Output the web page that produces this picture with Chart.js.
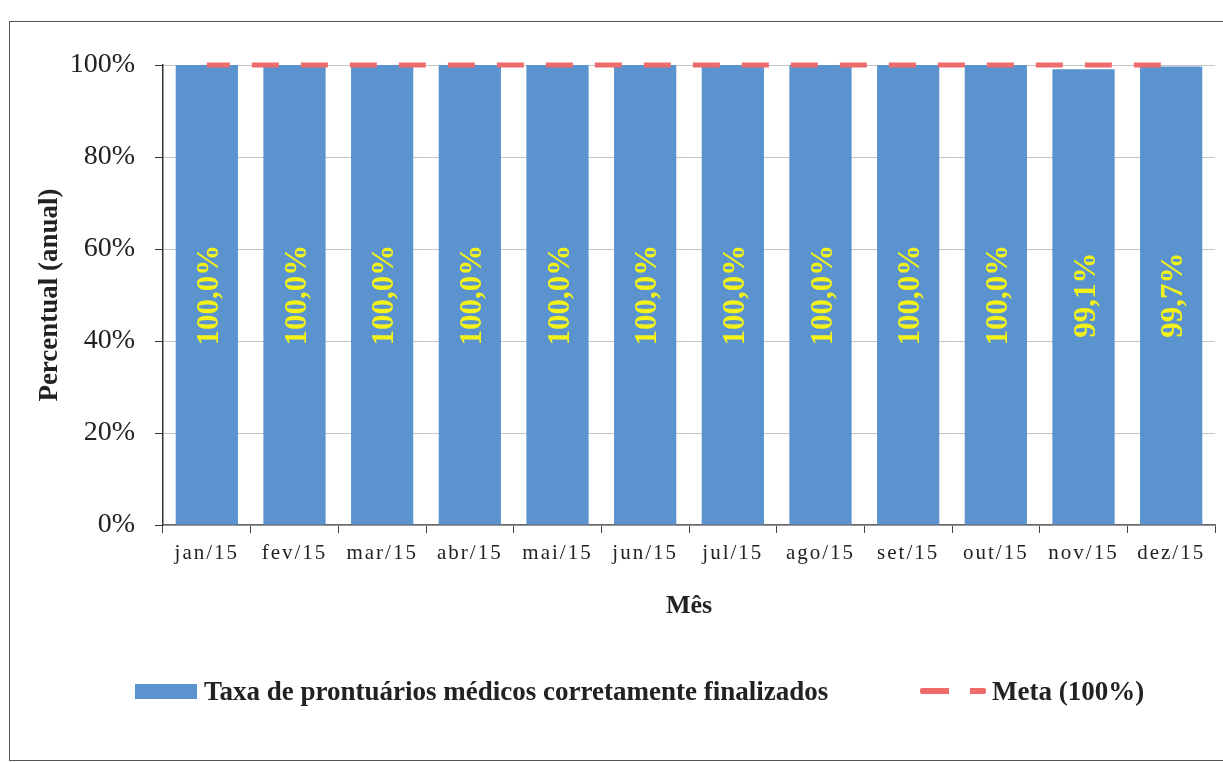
<!DOCTYPE html>
<html>
<head>
<meta charset="utf-8">
<script src="https://cdn.jsdelivr.net/npm/chart.js@4/dist/chart.umd.min.js"></script>
<style>
  html, body { margin: 0; padding: 0; background: #fff; width: 1223px; height: 762px; overflow: hidden; }
  #frame { position: absolute; left: 9px; top: 21px; width: 1230px; height: 740px; border: 1.5px solid #555; box-sizing: border-box; }
  #wrap { position: absolute; left: 0; top: 0; width: 1223px; height: 762px; }
  #legend { position: absolute; top: 674px; left: 0; width: 1223px; height: 34px; font-family: "Liberation Serif", serif; font-weight: bold; font-size: 27px; color: #222; }
  .item { position: absolute; top: 0; display: flex; align-items: center; height: 34px; }
  .swatch { width: 62px; height: 15px; background: #5b93cf; margin-right: 7px; }
  .dash { width: 66px; height: 6px; margin-right: 6px; background: linear-gradient(to right, #ee6b6b 0 29px, transparent 29px 50px, #ee6b6b 50px 66px); border-radius: 2px; }
</style>
</head>
<body>
<div id="frame"></div>
<div id="wrap"><canvas id="c" width="1223" height="762"></canvas></div>
<div id="legend">
  <div class="item" style="left:135px"><div class="swatch"></div><span>Taxa de prontuários médicos corretamente finalizados</span></div>
  <div class="item" style="left:920px"><div class="dash"></div><span>Meta (100%)</span></div>
</div>
<script>
const categories = ["jan/15","fev/15","mar/15","abr/15","mai/15","jun/15","jul/15","ago/15","set/15","out/15","nov/15","dez/15"];
const taxa = [100.0,100.0,100.0,100.0,100.0,100.0,100.0,100.0,100.0,100.0,99.1,99.7];
const meta = [100,100,100,100,100,100,100,100,100,100,100,100];
const yTicks = [0,20,40,60,80,100];

const labelPlugin = {
  id: 'vlabels',
  afterDatasetsDraw(chart) {
    const ctx = chart.ctx;
    const meta0 = chart.getDatasetMeta(1);
    const yMid = chart.scales.y.getPixelForValue(50);
    ctx.save();
    ctx.fillStyle = '#f2f21a';
    ctx.font = 'bold 31px "Liberation Serif", serif';
    ctx.textAlign = 'center';
    ctx.textBaseline = 'middle';
    meta0.data.forEach((bar, i) => {
      ctx.save();
      ctx.translate(bar.x + 3, yMid);
      ctx.rotate(-Math.PI / 2);
      ctx.fillText(taxa[i].toFixed(1).replace('.', ',') + '%', 0, 0);
      ctx.restore();
    });
    ctx.restore();
  }
};

const spacingPlugin = {
  id: 'xspacing',
  afterLayout(chart) {
    const sx = chart.scales.x;
    if (sx._patched) return;
    const orig = sx.drawLabels;
    sx.drawLabels = function (area) {
      const ctx = this.ctx;
      const prev = ctx.letterSpacing;
      ctx.letterSpacing = '2px';
      orig.call(this, area);
      ctx.letterSpacing = prev || '0px';
    };
    sx._patched = true;
  }
};

new Chart(document.getElementById('c'), {
  type: 'bar',
  data: {
    labels: categories,
    datasets: [
      {
        type: 'line',
        label: 'Meta (100%)',
        data: meta,
        borderColor: '#ee6b6b',
        borderWidth: 5,
        borderDash: [27, 22],
        borderDashOffset: 4,
        pointRadius: 0,
        fill: false,
        clip: false,
        order: 0
      },
      {
        type: 'bar',
        label: 'Taxa de prontuários médicos corretamente finalizados',
        data: taxa,
        backgroundColor: '#5b93cf',
        borderWidth: 0,
        barPercentage: 0.71,
        categoryPercentage: 1.0,
        order: 1
      }
    ]
  },
  options: {
    responsive: false,
    animation: false,
    layout: { padding: { left: 34, top: 65, right: 8, bottom: 137 } },
    plugins: { legend: { display: false }, tooltip: { enabled: false } },
    scales: {
      x: {
        grid: { display: true, drawOnChartArea: false, drawTicks: true, tickLength: 8, color: '#444', offset: true },
        border: { display: true, color: '#666', width: 1.5 },
        ticks: { color: '#222', font: { family: '"Liberation Serif", serif', size: 21 }, padding: 8, maxRotation: 0 },
        title: { display: true, text: 'Mês', color: '#222', font: { family: '"Liberation Serif", serif', size: 26, weight: 'bold' }, padding: { top: 0, bottom: 3 } },
        afterFit(scale) { scale.height = 100; }
      },
      y: {
        min: 0, max: 100,
        afterBuildTicks(scale) { scale.ticks = yTicks.map(v => ({ value: v })); },
        grid: { color: '#c4c4c4', lineWidth: 1, tickLength: 8, drawTicks: true, tickColor: '#333', tickBorderDash: [], borderDash: [1, 3] },
        border: { display: true, color: '#333', width: 1.5 },
        ticks: { color: '#222', font: { family: '"Liberation Serif", serif', size: 28 }, padding: 20, callback: v => v + '%' },
        title: { display: true, text: 'Percentual (anual)', color: '#222', font: { family: '"Liberation Serif", serif', size: 27, weight: 'bold' }, padding: 0 },
        afterFit(scale) { scale.width = 129; }
      }
    }
  },
  plugins: [labelPlugin, spacingPlugin]
});
</script>
</body>
</html>
